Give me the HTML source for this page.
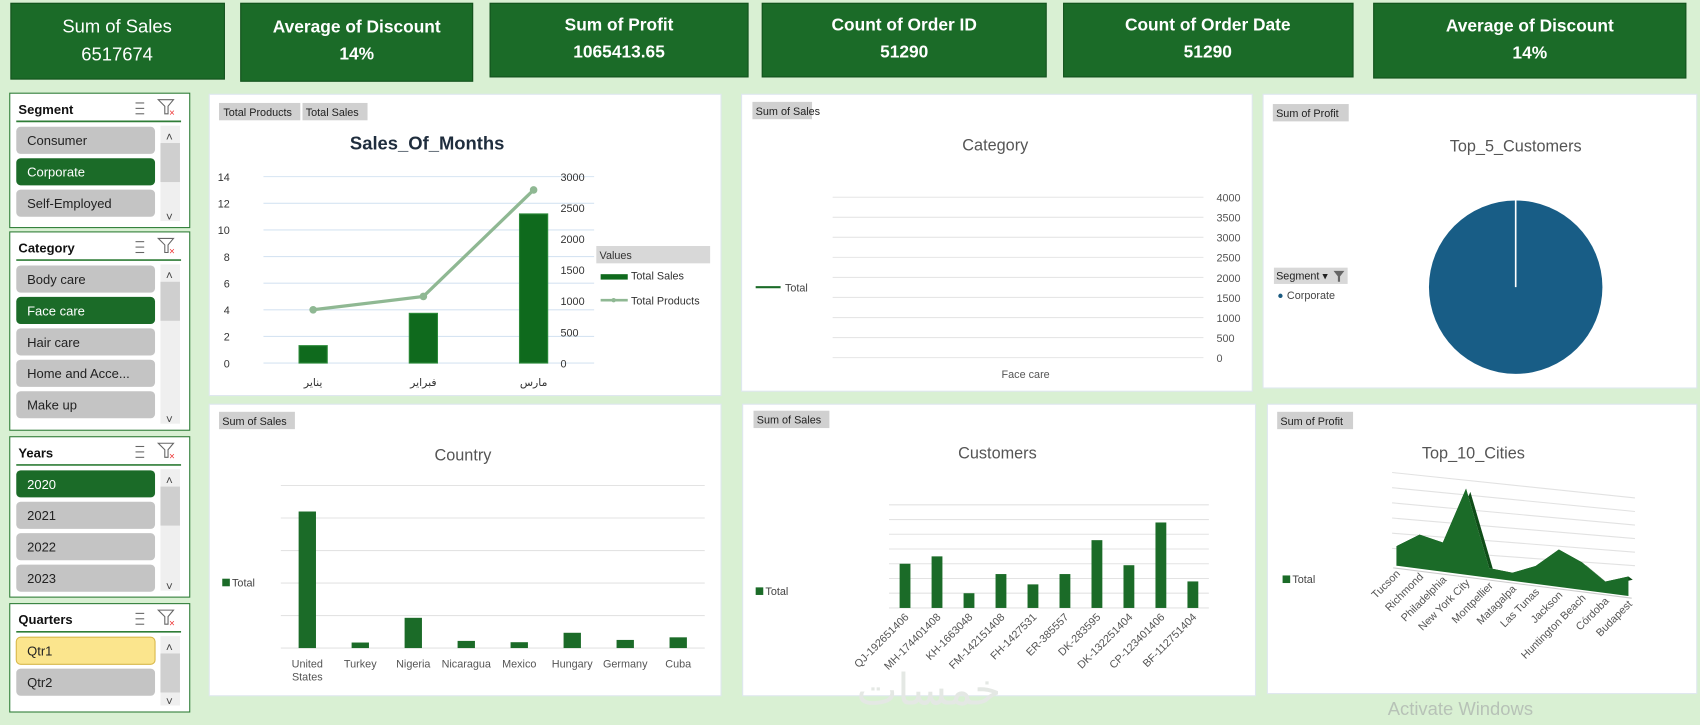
<!DOCTYPE html>
<html><head><meta charset="utf-8"><style>
html,body{margin:0;padding:0;background:#d9f0d3;overflow:hidden}
svg{display:block;font-family:"Liberation Sans","DejaVu Sans",sans-serif}
</style></head><body>
<svg id="dash" width="1700" height="725" viewBox="0 0 1568 669" preserveAspectRatio="none" xmlns="http://www.w3.org/2000/svg">
<rect x="0" y="0" width="1568" height="669" fill="#d9f0d3"/>
<g><rect x="10" y="3" width="197" height="70" fill="#1b6b28" stroke="#11501b"/><text x="108" y="30" fill="#fff" font-size="17" text-anchor="middle">Sum of Sales</text><text x="108" y="56" fill="#fff" font-size="17" text-anchor="middle">6517674</text></g>
<g><rect x="222" y="3" width="214" height="72" fill="#1b6b28" stroke="#11501b"/><text x="329" y="30" fill="#fff" font-size="16" font-weight="bold" text-anchor="middle">Average of Discount</text><text x="329" y="55" fill="#fff" font-size="16" font-weight="bold" text-anchor="middle">14%</text></g>
<g><rect x="452" y="3" width="238" height="68" fill="#1b6b28" stroke="#11501b"/><text x="571" y="28" fill="#fff" font-size="16" font-weight="bold" text-anchor="middle">Sum of Profit</text><text x="571" y="53" fill="#fff" font-size="16" font-weight="bold" text-anchor="middle">1065413.65</text></g>
<g><rect x="703" y="3" width="262" height="68" fill="#1b6b28" stroke="#11501b"/><text x="834" y="28" fill="#fff" font-size="16" font-weight="bold" text-anchor="middle">Count of Order ID</text><text x="834" y="53" fill="#fff" font-size="16" font-weight="bold" text-anchor="middle">51290</text></g>
<g><rect x="981" y="3" width="267" height="68" fill="#1b6b28" stroke="#11501b"/><text x="1114" y="28" fill="#fff" font-size="16" font-weight="bold" text-anchor="middle">Count of Order Date</text><text x="1114" y="53" fill="#fff" font-size="16" font-weight="bold" text-anchor="middle">51290</text></g>
<g><rect x="1267" y="3" width="288" height="69" fill="#1b6b28" stroke="#11501b"/><text x="1411" y="29" fill="#fff" font-size="16" font-weight="bold" text-anchor="middle">Average of Discount</text><text x="1411" y="54" fill="#fff" font-size="16" font-weight="bold" text-anchor="middle">14%</text></g>

<g id="slicers"></g>

<rect x="193" y="87" width="472" height="278" fill="#fff" stroke="#dfe7ef"/>
<rect x="684" y="87" width="471" height="274" fill="#fff" stroke="#dfe7ef"/>
<rect x="1165" y="87" width="400" height="271" fill="#fff" stroke="#dfe7ef"/>
<rect x="193" y="373" width="472" height="269" fill="#fff" stroke="#dfe7ef"/>
<rect x="685" y="373" width="473" height="269" fill="#fff" stroke="#dfe7ef"/>
<rect x="1169" y="373" width="396" height="267" fill="#fff" stroke="#dfe7ef"/>

<g font-size="10" fill="#222">
<rect x="202" y="95" width="75" height="16" fill="#d0d0d0"/><text x="206" y="107">Total Products</text>
<rect x="279" y="95" width="60" height="16" fill="#d0d0d0"/><text x="282" y="107">Total Sales</text>
<rect x="694" y="94" width="55" height="16" fill="#d0d0d0"/><text x="697" y="106">Sum of Sales</text>
<rect x="1174" y="96" width="70" height="16" fill="#d0d0d0"/><text x="1177" y="108">Sum of Profit</text>
<rect x="202" y="380" width="70" height="16" fill="#d0d0d0"/><text x="205" y="392">Sum of Sales</text>
<rect x="695" y="379" width="70" height="16" fill="#d0d0d0"/><text x="698" y="391">Sum of Sales</text>
<rect x="1178" y="380" width="70" height="16" fill="#d0d0d0"/><text x="1181" y="392">Sum of Profit</text>
</g>

<text x="394" y="138" font-size="17" font-weight="bold" fill="#1f2d3d" text-anchor="middle">Sales_Of_Months</text>
<text x="918" y="139" font-size="15" fill="#555" text-anchor="middle">Category</text>
<text x="1398" y="140" font-size="15" fill="#555" text-anchor="middle">Top_5_Customers</text>
<text x="427" y="425" font-size="15" fill="#555" text-anchor="middle">Country</text>
<text x="920" y="423" font-size="15" fill="#555" text-anchor="middle">Customers</text>
<text x="1359" y="423" font-size="15" fill="#555" text-anchor="middle">Top_10_Cities</text>

<g font-size="10" fill="#333">
<rect x="550" y="227" width="105" height="16" fill="#d8d8d8"/><text x="553" y="239">Values</text>
<rect x="554" y="253" width="25" height="5" fill="#0f6a1d"/><text x="582" y="258">Total Sales</text>
<line x1="554" y1="277" x2="579" y2="277" stroke="#8fb893" stroke-width="2.5"/><circle cx="566" cy="277" r="2" fill="#8fb893"/><text x="582" y="281">Total Products</text>
</g>
<g><line x1="697" y1="265" x2="720" y2="265" stroke="#1b6b28" stroke-width="2"/><text x="724" y="269" font-size="10" fill="#444">Total</text></g>
<g><rect x="1175" y="247" width="68" height="15" fill="#d8d8d8"/><text x="1177" y="258" font-size="10" fill="#222">Segment ▾</text><path d="M1230 250 h10 l-4 5 v5 h-2 v-5z" fill="#666"/><circle cx="1181" cy="273" r="2" fill="#1a5a80"/><text x="1187" y="276" font-size="10" fill="#444">Corporate</text></g>
<g><rect x="205" y="534" width="7" height="7" fill="#1b6b28"/><text x="214" y="541" font-size="10" fill="#444">Total</text></g>
<g><rect x="697" y="542" width="7" height="7" fill="#1b6b28"/><text x="706" y="549" font-size="10" fill="#444">Total</text></g>
<g><rect x="1183" y="531" width="7" height="7" fill="#1b6b28"/><text x="1192" y="538" font-size="10" fill="#444">Total</text></g>

<text x="946" y="349" font-size="10" fill="#555" text-anchor="middle">Face care</text>

<g id="c1"></g><g id="c2"></g><g id="c3"></g><g id="c4"></g><g id="c5"></g><g id="c6"></g>

<text x="790" y="650" font-size="40" fill="#e4e8e4" font-family="'Noto Sans CJK SC',sans-serif">خمسات</text>
<text x="1280" y="660" font-size="17" fill="#b7c2b7">Activate Windows</text>
</svg>
<script>
const NS='http://www.w3.org/2000/svg';
function mk(tag,attrs,parent){const e=document.createElementNS(NS,tag);for(const k in attrs)e.setAttribute(k,attrs[k]);parent.appendChild(e);return e;}
function tx(str,attrs,parent){const e=mk('text',attrs,parent);e.textContent=str;return e;}

const monthCats=['يناير','فبراير','مارس'];
const monthSales=[280,800,2400];
const monthProducts=[4,5,13];
const leftTicks=[0,2,4,6,8,10,12,14];
const rightTicks=[0,500,1000,1500,2000,2500,3000];
const catTicks=[0,500,1000,1500,2000,2500,3000,3500,4000];
const countryCats=['United States','Turkey','Nigeria','Nicaragua','Mexico','Hungary','Germany','Cuba'];
const countrySales=[420,17,93,22,18,47,25,33];
const custCats=['QJ-192651406','MH-174401408','KH-1663048','FM-142151408','FH-1427531','ER-385557','DK-283595','DK-132251404','CP-123401406','BF-112751404'];
const custSales=[30,35,10,23,16,23,46,29,58,18];
const cityCats=['Tucson','Richmond','Philadelphia','New York City','Montpellier','Matagalpa','Las Tunas','Jackson','Huntington Beach','Córdoba','Budapest'];
const cityProfit=[8,17,14,49,2,1,7,19,13,3,8];
const pieSegments=['Corporate'];
const pieValues=[100];
const slicerSegment=['Consumer','Corporate','Self-Employed'];
const slicerCategory=['Body care','Face care','Hair care','Home and Acce...','Make up'];
const slicerYears=['2020','2021','2022','2023'];
const slicerQuarters=['Qtr1','Qtr2'];

const S=document.getElementById('slicers');
function slicer(name,title,x,y,w,h,items,sel,selStyle){
  const g=mk('g',{},S);
  
  
  mk('rect',{x:x,y:y,width:w,height:h,fill:'#fff',stroke:'#2f7d37'},g);
  tx(title,{x:x+8,y:y+19,'font-size':12,'font-weight':'bold',fill:'#111'},g);
  const ic=mk('g',{},g);
  
  
  for(let i=0;i<3;i++){mk('line',{x1:x+116,y1:y+9+i*5,x2:x+124,y2:y+9+i*5,stroke:'#666'},ic);}
  const fc=mk('path',{d:`M${x+137} ${y+6} h14 l-5 6 v7 h-3 v-7z`,fill:'none',stroke:'#666'},g);
  
  
  tx('×',{x:x+147,y:y+21,'font-size':9,fill:'#e33'},g);
  mk('line',{x1:x+6,y1:y+26,x2:x+w-8,y2:y+26,stroke:'#2f7d37','stroke-width':1.5},g);
  const sb=mk('rect',{x:x+139,y:y+30,width:18,height:h-36,fill:'#efefef'},g);
  
  
  mk('rect',{x:x+139,y:y+46,width:18,height:Math.min(36,h-60),fill:'#cfcfcf'},g);
  tx('˄',{x:x+144,y:y+44,'font-size':11,fill:'#444'},g);
  tx('˅',{x:x+144,y:y+h-6,'font-size':11,fill:'#444'},g);
  items.forEach((it,i)=>{
    const iy=y+31+i*29;
    if(iy+25>y+h)return;
    const isSel=i===sel;
    let fill='#c4c4c4',col='#222',st='none';
    if(isSel&&selStyle==='green'){fill='#1b6b28';col='#fff';}
    if(isSel&&selStyle==='yellow'){fill='#fbe58d';st='#d8b84a';}
    const b=mk('rect',{x:x+6,y:iy,width:128,height:25,rx:4,fill:fill,stroke:st},g);
    
    
    tx(it,{x:x+16,y:iy+17,'font-size':12,fill:col},g);
  });
}
slicer('segment-slicer','Segment',9,86,166,124,slicerSegment,1,'green');
slicer('category-slicer','Category',9,214,166,183,slicerCategory,1,'green');
slicer('years-slicer','Years',9,403,166,148,slicerYears,0,'green');
slicer('quarters-slicer','Quarters',9,557,166,100,slicerQuarters,0,'yellow');

(function(){
  const g=document.getElementById('c1');
  const x0=243,x1=548,yTop=163,yBot=335;
  const yL=v=>yBot-(v/14)*(yBot-yTop);
  const yR=v=>yBot-(v/3000)*(yBot-yTop);
  const bw=(x1-x0)/monthCats.length;
  const xc=i=>x0+bw*(i+0.5)-5;
  leftTicks.forEach(t=>{
    const l=mk('line',{x1:x0,y1:yL(t),x2:x1,y2:yL(t),stroke:'#d6e4f2'},g);
    
    
    const tl=tx(String(t),{x:212,y:yL(t)+4,'font-size':10,fill:'#333','text-anchor':'end'},g);
    
    
  });
  rightTicks.forEach(t=>{
    const tl=tx(String(t),{x:517,y:yR(t)+4,'font-size':10,fill:'#333'},g);
    
    
  });
  monthCats.forEach((c,i)=>{
    const b=mk('rect',{x:xc(i)-13,y:yR(monthSales[i]),width:26,height:yBot-yR(monthSales[i]),fill:'#0f6a1d',stroke:'#2c8a3a'},g);
    
    
    const l=tx(c,{x:xc(i),y:356,'font-size':10,fill:'#333','text-anchor':'middle'},g);
    
    
  });
  const pts=monthProducts.map((v,i)=>xc(i)+','+yL(v)).join(' ');
  const pl=mk('polyline',{points:pts,fill:'none',stroke:'#8fb893','stroke-width':3},g);
  
  
  monthProducts.forEach((v,i)=>{
    const p=mk('circle',{cx:xc(i),cy:yL(v),r:3.5,fill:'#8fb893'},g);
    
    
  });
})();

(function(){
  const g=document.getElementById('c2');
  const yTop=182,yBot=330;
  const y=v=>yBot-(v/4000)*(yBot-yTop);
  catTicks.forEach(t=>{
    const l=mk('line',{x1:768,y1:y(t),x2:1110,y2:y(t),stroke:'#e6e6e6'},g);
    
    
    const tl=tx(String(t),{x:1122,y:y(t)+4,'font-size':10,fill:'#555'},g);
    
    
  });
})();

(function(){
  const g=document.getElementById('c3');
  const cx=1398,cy=265,r=80;
  const total=pieValues.reduce((a,b)=>a+b,0);
  let a0=-Math.PI/2;
  pieValues.forEach((v,i)=>{
    const frac=v/total;
    let s;
    if(frac>=0.9999){s=mk('circle',{cx:cx,cy:cy,r:r,fill:'#185d86'},g);
      mk('line',{x1:cx,y1:cy,x2:cx,y2:cy-r,stroke:'#fff','stroke-width':1.5},g);}
    else{const a1=a0+frac*2*Math.PI;const large=frac>0.5?1:0;
      s=mk('path',{d:`M${cx} ${cy} L${cx+r*Math.cos(a0)} ${cy+r*Math.sin(a0)} A${r} ${r} 0 ${large} 1 ${cx+r*Math.cos(a1)} ${cy+r*Math.sin(a1)}Z`,fill:'#185d86',stroke:'#fff'},g);a0=a1;}
    
    
  });
})();

(function(){
  const g=document.getElementById('c4');
  const x0=259,x1=650,yBot=598,step=30,max=500;
  const y=v=>yBot-(v/100)*step;
  for(let t=0;t<=max;t+=100){
    const l=mk('line',{x1:x0,y1:y(t),x2:x1,y2:y(t),stroke:'#e3e3e3'},g);
    
    
  }
  const bw=(x1-x0)/countryCats.length;
  countryCats.forEach((c,i)=>{
    const xc=x0+bw*(i+0.5);
    const b=mk('rect',{x:xc-8,y:y(countrySales[i]),width:16,height:yBot-y(countrySales[i]),fill:'#1b6b28'},g);
    
    
    const parts=c==='United States'?['United','States']:[c];
    parts.forEach((p,k)=>{
      const l=tx(p,{x:xc,y:616+k*12,'font-size':10,fill:'#555','text-anchor':'middle'},g);
      
      
    });
  });
})();

(function(){
  const g=document.getElementById('c5');
  const x0=820,x1=1115,yBot=561,step=13.6;
  const y=v=>yBot-(v/10)*step;
  for(let t=0;t<=70;t+=10){
    const l=mk('line',{x1:x0,y1:y(t),x2:x1,y2:y(t),stroke:'#e3e3e3'},g);
    
    
  }
  const bw=(x1-x0)/custCats.length;
  custCats.forEach((c,i)=>{
    const xc=x0+bw*(i+0.5);
    const b=mk('rect',{x:xc-5,y:y(custSales[i]),width:10,height:yBot-y(custSales[i]),fill:'#1b6b28'},g);
    
    
    const l=tx(c,{x:xc+4,y:570,'font-size':10,fill:'#555','text-anchor':'end',transform:`rotate(-45 ${xc+4} 570)`},g);
    
    
  });
})();

(function(){
  const g=document.getElementById('c6');
  const xa=1288,xb=1502,ya=522,yb=550,dh=1.5;
  const n=cityCats.length;
  const bx=i=>xa+(xb-xa)*i/(n-1);
  const by=i=>ya+(yb-ya)*i/(n-1);
  for(let k=0;k<6;k++){
    const l=mk('line',{x1:1284,y1:506-k*14,x2:1508,y2:522-k*14+k*1.5,stroke:'#e2e2e2'},g);
    
    
  }
  const top=cityProfit.map((v,i)=>bx(i)+','+(by(i)-v*dh-6));
  const pts=[bx(0)+','+by(0)].concat(top).concat([bx(n-1)+','+by(n-1)]).join(' ');
  const side=cityProfit.map((v,i)=>(bx(i)+4)+','+(by(i)-v*dh-3)).reverse();
  mk('polygon',{points:top.concat(side).join(' '),fill:'#0f4d18'},g);
  const a=mk('polygon',{points:pts,fill:'#1b6b28'},g);
  
  
  mk('line',{x1:xa-3,y1:ya+2,x2:xb+3,y2:yb+2,stroke:'#ccc'},g);
  cityCats.forEach((c,i)=>{
    const x=bx(i)+4,yy=by(i)+8;
    const l=tx(c,{x:x,y:yy,'font-size':10,fill:'#555','text-anchor':'end',transform:`rotate(-45 ${x} ${yy})`},g);
    
    
  });
})();
</script>
</body></html>
